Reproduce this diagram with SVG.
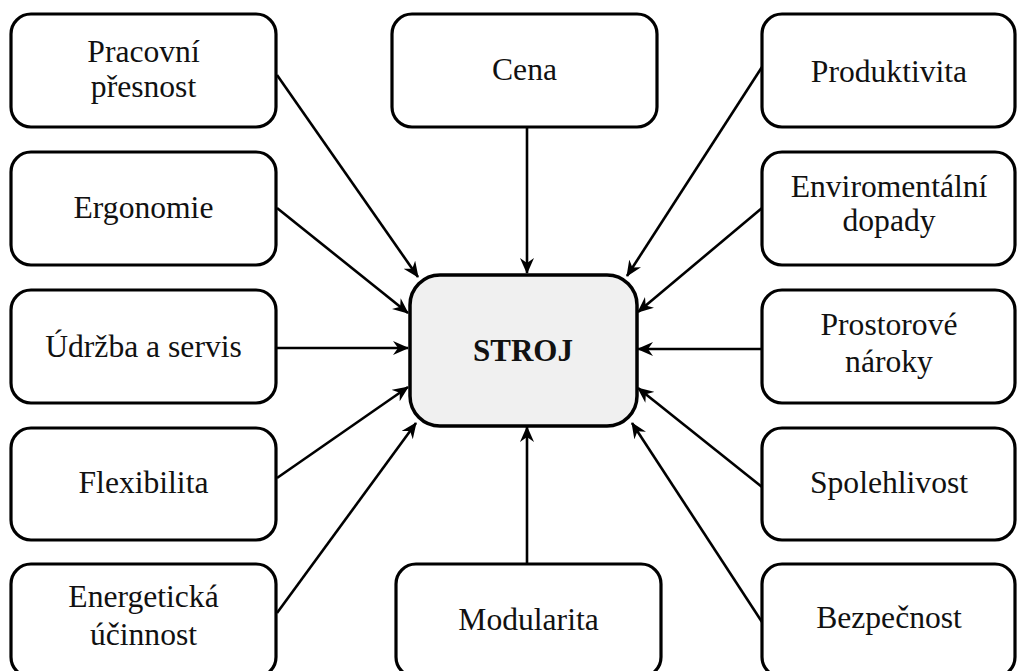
<svg xmlns="http://www.w3.org/2000/svg" width="1017" height="671" viewBox="0 0 1017 671">
<style>
.box{fill:#ffffff;stroke:#000000;stroke-width:3.2}
.core{fill:#f0f0f0;stroke:#000000;stroke-width:3.5}
.t{font-family:"Liberation Serif","Times New Roman",serif;font-size:31px;fill:#111111;text-anchor:middle}
.b{font-family:"Liberation Serif","Times New Roman",serif;font-size:31px;font-weight:bold;fill:#111111;text-anchor:middle}
.c{stroke:#000000;stroke-width:2.6;fill:none;marker-end:url(#arr)}
</style>
<defs>
<marker id="arr" viewBox="0 0 16 14" refX="15" refY="7" markerWidth="16" markerHeight="14" orient="auto" markerUnits="userSpaceOnUse">
<path d="M16,7 L0,0 L5,7 L0,14 Z" fill="#000000"/>
</marker>
</defs>
<rect width="1017" height="671" fill="#ffffff"/>
<g id="connectors">
<line class="c" x1="277" y1="75" x2="418" y2="277"/>
<line class="c" x1="277" y1="208" x2="408" y2="313"/>
<line class="c" x1="277" y1="348" x2="408" y2="348"/>
<line class="c" x1="277" y1="478" x2="408" y2="387"/>
<line class="c" x1="277" y1="613" x2="416" y2="423"/>
<line class="c" x1="527" y1="127" x2="527" y2="273"/>
<line class="c" x1="527" y1="563" x2="527" y2="427"/>
<line class="c" x1="762" y1="67" x2="627" y2="276"/>
<line class="c" x1="762" y1="208" x2="638" y2="312"/>
<line class="c" x1="762" y1="349" x2="638" y2="349"/>
<line class="c" x1="762" y1="487" x2="638" y2="388"/>
<line class="c" x1="762" y1="622" x2="632" y2="423"/>
</g>
<g id="stroj">
<rect class="core" x="410" y="275" width="227" height="151" rx="30" ry="30"/>
<text class="b" x="523" y="361">STROJ</text>
</g>
<g id="pracovni-presnost">
<rect class="box" x="11" y="14" width="265" height="113" rx="20" ry="20"/>
<text class="t" transform="translate(143.5,62) scale(1.02,1)">Pracovní</text>
<text class="t" transform="translate(143.5,97) scale(1.02,1)">přesnost</text>
</g>
<g id="ergonomie">
<rect class="box" x="11" y="152" width="265" height="113" rx="20" ry="20"/>
<text class="t" transform="translate(143.5,218) scale(1.02,1)">Ergonomie</text>
</g>
<g id="udrzba">
<rect class="box" x="11" y="290" width="265" height="113" rx="20" ry="20"/>
<text class="t" transform="translate(143.5,357) scale(1.02,1)">Údržba a servis</text>
</g>
<g id="flexibilita">
<rect class="box" x="11" y="428" width="265" height="112" rx="20" ry="20"/>
<text class="t" transform="translate(143.5,493) scale(1.02,1)">Flexibilita</text>
</g>
<g id="energeticka-ucinnost">
<rect class="box" x="11" y="564" width="265" height="113" rx="20" ry="20"/>
<text class="t" transform="translate(143.5,607) scale(1.02,1)">Energetická</text>
<text class="t" transform="translate(143.5,645) scale(1.02,1)">účinnost</text>
</g>
<g id="cena">
<rect class="box" x="392" y="14" width="265" height="113" rx="20" ry="20"/>
<text class="t" transform="translate(524.5,80) scale(1.02,1)">Cena</text>
</g>
<g id="modularita">
<rect class="box" x="396" y="564" width="265" height="113" rx="20" ry="20"/>
<text class="t" transform="translate(528.5,630) scale(1.02,1)">Modularita</text>
</g>
<g id="produktivita">
<rect class="box" x="762" y="14" width="253" height="113" rx="20" ry="20"/>
<text class="t" transform="translate(889,82) scale(1.02,1)">Produktivita</text>
</g>
<g id="enviromentalni-dopady">
<rect class="box" x="762" y="152" width="253" height="113" rx="20" ry="20"/>
<text class="t" transform="translate(889,197) scale(1.02,1)">Enviromentální</text>
<text class="t" transform="translate(889,231) scale(1.02,1)">dopady</text>
</g>
<g id="prostorove-naroky">
<rect class="box" x="762" y="290" width="253" height="113" rx="20" ry="20"/>
<text class="t" transform="translate(889,335) scale(1.02,1)">Prostorové</text>
<text class="t" transform="translate(889,372) scale(1.02,1)">nároky</text>
</g>
<g id="spolehlivost">
<rect class="box" x="762" y="428" width="253" height="112" rx="20" ry="20"/>
<text class="t" transform="translate(889,493) scale(1.02,1)">Spolehlivost</text>
</g>
<g id="bezpecnost">
<rect class="box" x="762" y="564" width="253" height="113" rx="20" ry="20"/>
<text class="t" transform="translate(889,628) scale(1.02,1)">Bezpečnost</text>
</g>
</svg>
